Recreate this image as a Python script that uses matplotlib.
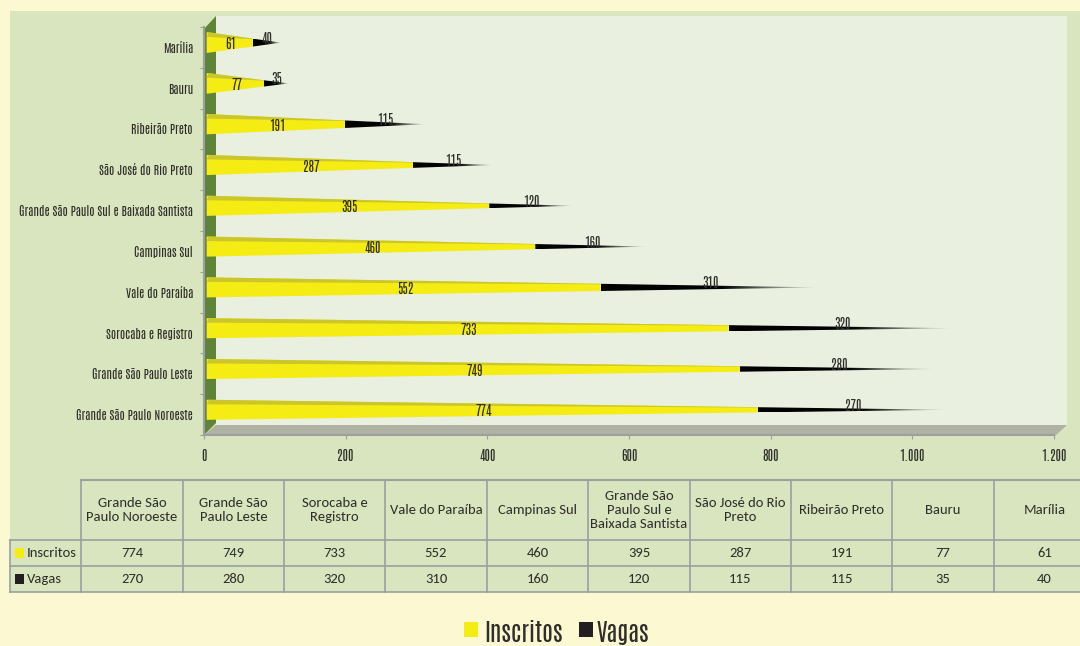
"""Inscritos x Vagas por regiao: cones horizontais com tabela de dados."""

import matplotlib

matplotlib.use("Agg")
import logging

import matplotlib.pyplot as plt
import numpy as np
from matplotlib.patches import Polygon, Rectangle
from matplotlib.ticker import FuncFormatter
from matplotlib.transforms import Affine2D

logging.getLogger("matplotlib.font_manager").setLevel(logging.ERROR)

regions = [
    "Grande São Paulo Noroeste",
    "Grande São Paulo Leste",
    "Sorocaba e Registro",
    "Vale do Paraíba",
    "Campinas Sul",
    "Grande São Paulo Sul e Baixada Santista",
    "São José do Rio Preto",
    "Ribeirão Preto",
    "Bauru",
    "Marília",
]
table_headers = [
    "Grande São\nPaulo Noroeste",
    "Grande São\nPaulo Leste",
    "Sorocaba e\nRegistro",
    "Vale do Paraíba",
    "Campinas Sul",
    "Grande São\nPaulo Sul e\nBaixada Santista",
    "São José do Rio\nPreto",
    "Ribeirão Preto",
    "Bauru",
    "Marília",
]
inscritos = [774, 749, 733, 552, 460, 395, 287, 191, 77, 61]
vagas = [270, 280, 320, 310, 160, 120, 115, 115, 35, 40]
x_ticks = [0, 200, 400, 600, 800, 1000, 1200]

W, H = 1080, 646
BG = "#FBF8D2"
PANEL = "#D8E5BE"
WALL = "#E9F0DF"
GREEN = "#5F8438"
FLOOR = "#B0B3A3"
YELLOW = "#F5EC14"
YELLOW_DARK = "#CBC62B"
GRID = "#9B9FA0"
TEXT = "#2E2E2A"
NARROW = ["Antonio", "Liberation Sans", "DejaVu Sans"]
TABLE_FONT = ["Carlito", "Lato", "DejaVu Sans"]


def draw_backdrop(bg):
    """Panel, back wall, side wall and floor, in pixel coordinates."""
    bg.add_patch(Rectangle((10, 11), W - 10, 581, fc=PANEL, ec="none"))
    bg.add_patch(Rectangle((216, 16), 851, 410, fc=WALL, ec="none"))
    bg.add_patch(Polygon([(203, 30), (216, 16), (216, 423), (203, 436)], fc=GREEN, ec="none"))
    bg.add_patch(Polygon([(216, 425), (1067, 425), (1055, 436), (203, 436)], fc=FLOOR, ec="none"))


def half_height(x, tip, base=10.0):
    return base * (1 - np.asarray(x, dtype=float) / tip)


def draw_cone(ax, y, ins, vag, trans):
    """One stacked cone: yellow body with darker top strip, black fading tip."""
    tip = ins + vag
    start = -4.0
    unit = ax.transData.transform((0, 1))[1] - ax.transData.transform((0, 0))[1]
    xs = np.array([start, ins])
    h = half_height(xs, tip) / unit
    ax.add_patch(Polygon(
        [(xs[0], y - h[0]), (xs[1], y - h[1]), (xs[1], y + h[1]), (xs[0], y + h[0])],
        fc=YELLOW, ec="none", transform=trans, zorder=3))
    ax.add_patch(Polygon(
        [(xs[0], y + 0.55 * h[0]), (xs[1], y + 0.85 * h[1]), (xs[1], y + h[1]), (xs[0] + 3, y + h[0])],
        fc=YELLOW_DARK, ec="none", transform=trans, zorder=3))

    # black tip: a horizontal alpha ramp clipped to the cone outline
    h0 = half_height(ins, tip) / unit
    tip_shape = Polygon([(ins, y - h0), (tip, y), (ins, y + h0)], fc="none", ec="none",
                        transform=trans, zorder=3)
    ax.add_patch(tip_shape)
    ramp = np.zeros((1, 64, 4))
    ramp[..., 3] = np.clip((1 - np.linspace(0, 1, 64)) / 0.45, 0, 1)
    im = ax.imshow(ramp, extent=(ins, tip, y - h0, y + h0), aspect="auto", transform=trans,
                   interpolation="bilinear", zorder=3)
    im.set_clip_path(tip_shape)


def draw_table(tb):
    """Data table under the chart, drawn on the pixel overlay."""
    col_edges = [81, 183, 284, 385, 487, 588, 690, 791, 892, 994, 1095]
    header_top, row_tops, bottom = 480, [540, 566], 592

    tb.plot([81, W], [header_top, header_top], color=GRID, lw=1.5)
    for ry in row_tops + [bottom]:
        tb.plot([10, W], [ry, ry], color=GRID, lw=1.2)
    tb.plot([10, 10], [row_tops[0], bottom], color=GRID, lw=1.2)
    for cx in col_edges:
        tb.plot([cx, cx], [header_top, bottom], color=GRID, lw=1.2)

    for i, label in enumerate(table_headers):
        mid = (col_edges[i] + col_edges[i + 1]) / 2
        tb.text(mid, 510, label, ha="center", va="center", fontsize=10.5,
                family=TABLE_FONT, color=TEXT, linespacing=1.15)
        tb.text(mid, 553, str(inscritos[i]), ha="center", va="center", fontsize=10.5,
                family=TABLE_FONT, color=TEXT)
        tb.text(mid, 579, str(vagas[i]), ha="center", va="center", fontsize=10.5,
                family=TABLE_FONT, color=TEXT)

    for name, color, ry in (("Inscritos", YELLOW, 553), ("Vagas", "#231F20", 579)):
        tb.add_patch(Rectangle((15, ry - 5), 9, 10, fc=color, ec="none"))
        tb.text(27, ry, name, ha="left", va="center", fontsize=10.5, family=TABLE_FONT, color=TEXT)


def draw_legend(tb):
    for name, color, sx, tx in (("Inscritos", YELLOW, 464, 484), ("Vagas", "#231F20", 579, 597)):
        tb.add_patch(Rectangle((sx, 622), 14, 15, fc=color, ec="none"))
        tb.text(tx, 633, name, ha="left", va="center", fontsize=17.5, family=NARROW, color=TEXT)


def main():
    fig = plt.figure(figsize=(W / 100, H / 100), dpi=100, facecolor=BG)

    bg = fig.add_axes([0, 0, 1, 1], zorder=0)
    bg.set_xlim(0, W)
    bg.set_ylim(H, 0)
    bg.axis("off")
    draw_backdrop(bg)

    left, right, top, bottom = 204, 1054, 27, 435
    ax = fig.add_axes([left / W, 1 - bottom / H, (right - left) / W, (bottom - top) / H], zorder=1)
    ax.patch.set_alpha(0)
    ax.set_xlim(0, 1200)
    ax.set_ylim(-0.5, 9.5)
    for side in ("top", "right"):
        ax.spines[side].set_visible(False)
    for side in ("left", "bottom"):
        ax.spines[side].set_color(GRID)
        ax.spines[side].set_linewidth(1.5)

    ax.set_xticks(x_ticks)
    ax.xaxis.set_major_formatter(FuncFormatter(lambda v, _: f"{int(v):,}".replace(",", ".")))
    ax.tick_params(axis="x", length=3, color=GRID, pad=7, labelsize=9.5, labelcolor=TEXT)
    for lab in ax.get_xticklabels():
        lab.set_family(NARROW)

    ax.set_yticks(np.arange(-0.5, 10, 1))
    ax.set_yticklabels([])
    ax.tick_params(axis="y", which="major", length=3, color=GRID)
    ax.set_yticks(np.arange(10), labels=regions, minor=True)
    ax.tick_params(axis="y", which="minor", length=0, pad=8, labelsize=8.5, labelcolor=TEXT)
    for lab in ax.get_yticklabels(minor=True):
        lab.set_family(NARROW)

    bar_trans = ax.transData + Affine2D().translate(5.5, 4.8)
    for i, (ins, vag) in enumerate(zip(inscritos, vagas)):
        draw_cone(ax, i, ins, vag, bar_trans)
        ax.text(ins / 2, i, str(ins), ha="center", va="center", fontsize=9.5, family=NARROW,
                color=TEXT, zorder=4, transform=bar_trans + Affine2D().translate(0, -1.7))
        ax.text(ins + vag / 2, i, str(vag), ha="center", va="center", fontsize=9.5, family=NARROW,
                color=TEXT, zorder=4, transform=bar_trans + Affine2D().translate(0, 4))
    ax.set_xlim(0, 1200)
    ax.set_ylim(-0.5, 9.5)

    tb = fig.add_axes([0, 0, 1, 1], zorder=2)
    tb.set_xlim(0, W)
    tb.set_ylim(H, 0)
    tb.axis("off")
    tb.patch.set_alpha(0)
    draw_table(tb)
    draw_legend(tb)

    fig.savefig("out.png", dpi=100, facecolor=BG)
    plt.close(fig)


if __name__ == "__main__":
    main()
